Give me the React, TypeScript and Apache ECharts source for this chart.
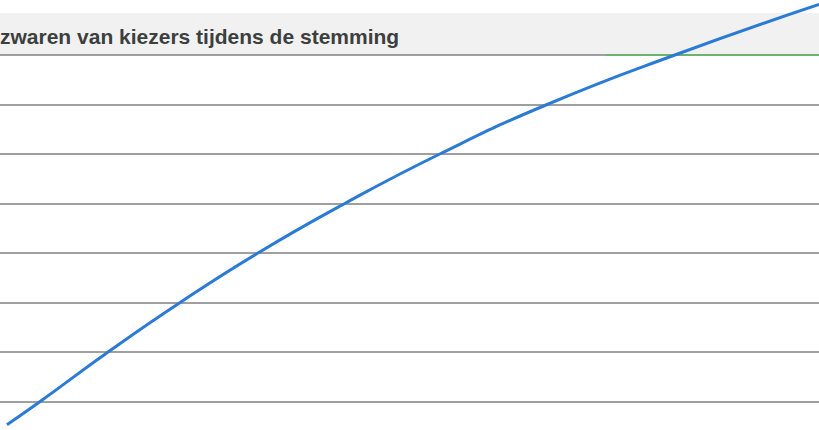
import React, { useEffect, useRef } from "react";
import * as echarts from "echarts";

const titleText = "zwaren van kiezers tijdens de stemming";
const curveX = [0.85, 4.9, 13.2, 22.0, 31.5, 42.1, 53.7, 66.8, 82.4, 100];
const curveY = [-0.47, 0, 1, 2, 3, 4, 5, 6, 7, 8.02];
const gridLevels = [0, 1, 2, 3, 4, 5, 6, 7];
const greenSegment = [74, 100];

export default function App() {
  const ref = useRef<HTMLDivElement>(null);
  useEffect(() => {
    if (!ref.current) return;
    const chart = echarts.init(ref.current, null, { renderer: "svg" });
    chart.setOption({
      animation: false,
      backgroundColor: "#ffffff",
      grid: { left: 0, right: 0, top: 55, bottom: 28.5 },
      graphic: [
        {
          type: "rect",
          z: -10,
          silent: true,
          shape: { x: 0, y: 13, width: 819, height: 42 },
          style: { fill: "#f1f1f1" },
        },
        {
          type: "text",
          z: 10,
          x: 0,
          y: 36,
          style: {
            text: titleText,
            fill: "#3c3f3e",
            font: "bold 21px 'Liberation Sans', Arial, sans-serif",
            verticalAlign: "middle",
          },
        },
      ],
      xAxis: {
        type: "value",
        min: 0,
        max: 100,
        axisLine: { show: false },
        axisTick: { show: false },
        axisLabel: { show: false },
        splitLine: { show: false },
      },
      yAxis: {
        type: "value",
        min: gridLevels[0],
        max: gridLevels[gridLevels.length - 1],
        interval: 1,
        axisLine: { show: false },
        axisTick: { show: false },
        axisLabel: { show: false },
        splitLine: { show: true, lineStyle: { color: "#7f7f7f", width: 1.5 } },
      },
      series: [
        {
          type: "line",
          data: [[greenSegment[0], 7], [greenSegment[1], 7]],
          symbol: "none",
          clip: false,
          lineStyle: { color: "#5cb85c", width: 1.5 },
          z: 1,
        },
        {
          type: "line",
          data: curveX.map((x, i) => [x, curveY[i]]),
          smooth: 0.5,
          symbol: "none",
          clip: false,
          lineStyle: { color: "#2b7bd6", width: 3 },
          z: 3,
        },
      ],
    });
    return () => chart.dispose();
  }, []);
  return <div ref={ref} style={{ width: 819, height: 430, position: "absolute", left: 0, top: 0 }} />;
}
